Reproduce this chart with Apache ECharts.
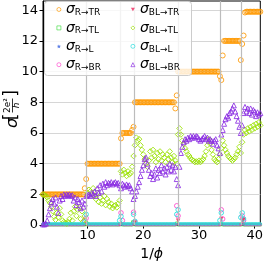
<!DOCTYPE html>
<html><head><meta charset="utf-8">
<script src="https://cdn.jsdelivr.net/npm/echarts@6/dist/echarts.min.js"></script>
<style>html,body{margin:0;padding:0;background:#fff}#c{width:266px;height:266px}</style>
</head><body><div id="c"></div>
<script>
// 1/phi sample positions
const xVals = [2,2.25,2.5,2.75,3,3.25,3.5,3.75,4,4.25,4.5,4.75,5,5.25,5.5,5.75,6,6.25,6.5,6.75,7,7.25,7.5,7.75,8,8.25,8.5,8.75,9,9.25,9.5,9.75,10,10.25,10.5,10.75,11,11.25,11.5,11.75,12,12.25,12.5,12.75,13,13.25,13.5,13.75,14,14.25,14.5,14.75,15,15.25,15.5,15.75,16,16.25,16.5,16.75,17,17.25,17.5,17.75,18,18.25,18.5,18.75,19,19.25,19.5,19.75,20,20.25,20.5,20.75,21,21.25,21.5,21.75,22,22.25,22.5,22.75,23,23.25,23.5,23.75,24,24.25,24.5,24.75,25,25.25,25.5,25.75,26,26.25,26.5,26.75,27,27.25,27.5,27.75,28,28.25,28.5,28.75,29,29.25,29.5,29.75,30,30.25,30.5,30.75,31,31.25,31.5,31.75,32,32.25,32.5,32.75,33,33.25,33.5,33.75,34,34.25,34.5,34.75,35,35.25,35.5,35.75,36,36.25,36.5,36.75,37,37.25,37.5,37.75,38,38.25,38.5,38.75,39,39.25,39.5,39.75,40,40.25,40.5,40.75,41];

const sigR_TR = [
2,2,2,2, 2,2,2,2, 2,2,2,2, 2,2,2,2, 2,2,2,2, 2,2,2,2, 2,2,2,2, 2,2,2.4,3.0,
4,4,4,4, 4,4,4,4, 4,4,4,4, 4,4,4,4, 4,4,4,4, 4,4,4,4,
5.65,6,6,6, 6,6,6,6, 6.2,6.4,8,8,
8,8,8,8, 8,8,8,8, 8,8,8,8, 8,8,8,8, 8,8,8,8, 8,8,8,8, 8,8,8,7.6,
8.45,10,10,10, 10,10,10,10, 10,10,10,10, 10,10,10,10, 10,10,10,10, 10,10,10,10, 10,10,10,10, 10,10,10,9.7,
9.45,11.05,12,12, 12,12,12,12, 12,12,12,12, 12,12,10.75,11.8,
12.35,13.85,13.9,13.9, 13.9,13.9,13.9,13.9, 13.9,13.9,13.9,13.9, 13.9];

const sigR_TL = [
0.03,0.03,0.03,0.03, 0.03,0.03,0.03,0.03, 0.03,0.03,0.03,0.03, 0.03,0.03,0.03,0.03, 0.03,0.03,0.03,0.03, 0.03,0.03,0.03,0.03, 0.03,0.03,0.03,0.03, 0.03,0.03,0.03,0.12,
0.03,0.03,0.03,0.03, 0.03,0.03,0.03,0.03, 0.03,0.03,0.03,0.03, 0.03,0.03,0.03,0.03, 0.03,0.03,0.03,0.03, 0.03,0.03,0.03,0.03,
0.1,0.03,0.03,0.03, 0.03,0.03,0.03,0.03, 0.03,0.15,0.03,0.03,
0.03,0.03,0.03,0.03, 0.03,0.03,0.03,0.03, 0.03,0.03,0.03,0.03, 0.03,0.03,0.03,0.03, 0.03,0.03,0.03,0.03, 0.03,0.03,0.03,0.03, 0.03,0.03,0.03,0.03,
0.12,0.03,0.03,0.03, 0.03,0.03,0.03,0.03, 0.03,0.03,0.03,0.03, 0.03,0.03,0.03,0.03, 0.03,0.03,0.03,0.03, 0.03,0.03,0.03,0.03, 0.03,0.03,0.03,0.03, 0.03,0.03,0.03,0.03,
0.1,0.03,0.03,0.03, 0.03,0.03,0.03,0.03, 0.03,0.03,0.03,0.03, 0.03,0.03,0.03,0.12,
0.03,0.03,0.03,0.03, 0.03,0.03,0.03,0.03, 0.03,0.03,0.03,0.03, 0.03];

const sigR_L = [
0.02,0.02,0.02,0.02, 0.02,0.02,0.02,0.02, 0.02,0.02,0.02,0.02, 0.02,0.02,0.02,0.02, 0.02,0.02,0.02,0.02, 0.02,0.02,0.02,0.02, 0.02,0.02,0.02,0.02, 0.02,0.02,0.02,0.08,
0.02,0.02,0.02,0.02, 0.02,0.02,0.02,0.02, 0.02,0.02,0.02,0.02, 0.02,0.02,0.02,0.02, 0.02,0.02,0.02,0.02, 0.02,0.02,0.02,0.02,
0.02,0.02,0.02,0.02, 0.02,0.02,0.02,0.02, 0.02,0.1,0.02,0.02,
0.02,0.02,0.02,0.02, 0.02,0.02,0.02,0.02, 0.02,0.02,0.02,0.02, 0.02,0.02,0.02,0.02, 0.02,0.02,0.02,0.02, 0.02,0.02,0.02,0.02, 0.02,0.02,0.02,0.02,
0.02,0.1,0.02,0.02, 0.02,0.02,0.02,0.02, 0.02,0.02,0.02,0.02, 0.02,0.02,0.02,0.02, 0.02,0.02,0.02,0.02, 0.02,0.02,0.02,0.02, 0.02,0.02,0.02,0.02, 0.02,0.02,0.02,0.02,
0.1,0.02,0.02,0.02, 0.02,0.02,0.02,0.02, 0.02,0.02,0.02,0.02, 0.02,0.02,0.02,0.1,
0.02,0.02,0.02,0.02, 0.02,0.02,0.02,0.02, 0.02,0.02,0.02,0.02, 0.02];

const sigR_BR = [
0.03,0.03,0.03,0.03, 0.03,0.03,0.03,0.03, 0.03,0.03,0.03,0.03, 0.03,0.03,0.03,0.03, 0.03,0.03,0.03,0.03, 0.03,0.03,0.03,0.03, 0.03,0.03,0.03,0.03, 0.03,0.03,0.28,0.45,
0.03,0.03,0.03,0.03, 0.03,0.03,0.03,0.03, 0.03,0.03,0.03,0.03, 0.03,0.03,0.03,0.03, 0.03,0.03,0.03,0.03, 0.03,0.03,0.03,0.03,
0.8,0.3,0.03,0.03, 0.03,0.03,0.03,0.03, 0.03,0.84,0.2,0.03,
0.03,0.03,0.03,0.03, 0.03,0.03,0.03,0.03, 0.03,0.03,0.03,0.03, 0.03,0.03,0.03,0.03, 0.03,0.03,0.03,0.03, 0.03,0.03,0.03,0.03, 0.03,0.03,0.03,0.03,
1.26,0.6,0.03,0.03, 0.03,0.03,0.03,0.03, 0.03,0.03,0.03,0.03, 0.03,0.03,0.03,0.03, 0.03,0.03,0.03,0.03, 0.03,0.03,0.03,0.03, 0.03,0.03,0.03,0.03, 0.03,0.03,0.03,0.03,
1.0,0.4,0.03,0.03, 0.03,0.03,0.03,0.03, 0.03,0.03,0.03,0.03, 0.03,0.03,0.03,0.6,
0.3,0.03,0.03,0.03, 0.03,0.03,0.03,0.03, 0.03,0.03,0.03,0.03, 0.03];

const sigBL_TR = [
0.02,0.02,0.02,0.02, 0.02,0.02,0.02,0.02, 0.02,0.02,0.02,0.02, 0.02,0.02,0.02,0.02, 0.02,0.02,0.02,0.02, 0.02,0.02,0.02,0.02, 0.02,0.02,0.02,0.02, 0.02,0.02,0.02,0.1,
0.02,0.02,0.02,0.02, 0.02,0.02,0.02,0.02, 0.02,0.02,0.02,0.02, 0.02,0.02,0.02,0.02, 0.02,0.02,0.02,0.02, 0.02,0.02,0.02,0.02,
0.1,0.02,0.02,0.02, 0.02,0.02,0.02,0.02, 0.02,0.02,0.15,0.02,
0.02,0.02,0.02,0.02, 0.02,0.02,0.02,0.02, 0.02,0.02,0.02,0.02, 0.02,0.02,0.02,0.02, 0.02,0.02,0.02,0.02, 0.02,0.02,0.02,0.02, 0.02,0.02,0.02,0.02,
0.02,0.28,0.02,0.02, 0.02,0.02,0.02,0.02, 0.02,0.02,0.02,0.02, 0.02,0.02,0.02,0.02, 0.02,0.02,0.02,0.02, 0.02,0.02,0.02,0.02, 0.02,0.02,0.02,0.02, 0.02,0.02,0.02,0.02,
0.4,0.02,0.02,0.02, 0.02,0.02,0.02,0.02, 0.02,0.02,0.02,0.02, 0.02,0.02,0.02,0.3,
0.35,0.02,0.02,0.02, 0.02,0.02,0.02,0.02, 0.02,0.02,0.02,0.02, 0.02];

const sigBL_TL = [
2.0,1.95,1.9,1.8, 1.6,1.45,1.2,0.9, 0.55,0.35,0.8,0.5, 1.1,0.7,0.3,0.2, 0.15,0.1,0.2,0.4, 0.8,0.3,0.9,1.2, 0.6,1.0,1.15,0.4, 0.9,0.25,0.6,0.15,
2.1,2.3,2.2,2.0, 2.4,1.9,1.7,2.1, 1.5,1.8,1.4,1.6, 1.9,1.3,1.7,1.5, 1.2,1.4,1.1,1.25, 1.3,1.15,1.4,1.6,
3.5,3.3,3.6,3.4, 3.2,3.5,3.3,3.4, 3.8,4.5,5.2,5.7,
5.5,5.6,5.2,4.9, 4.6,4.3,4.0,3.8, 4.2,4.8,4.4,4.9, 4.5,4.1,4.7,4.3, 4.8,4.2,4.6,4.4, 4.1,4.6,4.3,4.8, 4.4,4.1,4.5,4.2,
4.0,5.9,6.3,5.9, 5.5,5.3,5.0,4.8, 4.6,4.5,4.35,4.25, 4.2,4.1,4.15,4.1, 4.2,4.1,4.2,4.3, 4.5,4.8,5.2,5.6, 5.3,4.9,4.6,4.3, 4.2,4.1,4.3,4.6,
5.0,5.5,5.2,4.9, 4.7,4.5,4.4,4.3, 4.2,4.3,4.4,4.6, 4.8,5.1,4.7,5.4,
5.9,6.2,6.0,6.3, 6.1,6.4,6.2,6.5, 6.3,6.6,6.4,6.7, 6.5];

const sigBL_L = [
0.08,0.08,0.08,0.08, 0.08,0.08,0.08,0.08, 0.08,0.08,0.08,0.08, 0.08,0.08,0.08,0.08, 0.08,0.08,0.08,0.08, 0.08,0.08,0.08,0.08, 0.08,0.08,0.08,0.08, 0.08,0.08,0.2,0.7,
0.08,0.08,0.08,0.08, 0.08,0.08,0.08,0.08, 0.08,0.08,0.08,0.08, 0.08,0.08,0.08,0.08, 0.08,0.08,0.08,0.08, 0.08,0.08,0.08,0.3,
0.57,0.08,0.08,0.08, 0.08,0.08,0.08,0.08, 0.08,0.7,0.25,0.08,
0.08,0.08,0.08,0.08, 0.08,0.08,0.08,0.08, 0.08,0.08,0.08,0.08, 0.08,0.08,0.08,0.08, 0.08,0.08,0.08,0.08, 0.08,0.08,0.08,0.08, 0.08,0.08,0.08,0.08,
0.7,1.0,0.08,0.08, 0.08,0.08,0.08,0.08, 0.08,0.08,0.08,0.08, 0.08,0.08,0.08,0.08, 0.08,0.08,0.08,0.08, 0.08,0.08,0.08,0.08, 0.08,0.08,0.08,0.08, 0.08,0.08,0.08,0.3,
0.8,0.08,0.08,0.08, 0.08,0.08,0.08,0.08, 0.08,0.08,0.08,0.08, 0.08,0.08,0.5,0.8,
0.4,0.08,0.08,0.08, 0.08,0.08,0.08,0.08, 0.08,0.08,0.08,0.08, 0.08];

const sigBL_BR = [
0.05,0.05,0.1,0.3, 0.7,1.1,1.5,1.7, 1.4,1.8,1.2,0.8, 1.6,1.9,1.7,2.0, 1.9,2.0,1.95,2.0, 1.9,1.95,1.6,1.8, 1.3,1.7,1.5,1.1, 1.6,1.2,1.4,1.9,
1.95,2.0,1.9,2.1, 2.0,2.2,1.9,2.4, 2.1,2.6,2.2,2.7, 2.5,2.8,2.6,2.75, 2.7,2.8,2.65,2.75, 2.8,2.7,2.75,2.6,
2.4,2.7,2.6,2.5, 2.65,2.55,2.6,2.4, 2.2,1.7,1.9,2.2,
2.5,2.8,3.2,3.6, 3.9,4.3,4.4,4.0, 3.6,3.2,3.4,3.0, 3.3,3.7,3.1,3.6, 3.4,3.9,3.5,3.7, 3.3,3.8,3.5,4.0, 3.6,3.9,3.5,3.8,
3.0,2.6,3.8,4.7, 5.1,5.4,5.6,5.5, 5.7,5.6,5.8,5.7, 5.8,5.7,5.8,5.75, 5.6,5.5,5.6,5.7, 5.8,5.6,5.7,5.5, 5.6,5.5,5.3,5.5, 5.6,5.2,5.0,4.7,
5.9,6.2,6.6,6.9, 7.1,7.0,7.3,7.4, 7.6,7.8,7.4,7.1, 6.8,6.4,6.0,6.5,
7.3,7.7,7.4,7.6, 7.3,7.6,7.2,7.5, 7.4,7.1,7.35,7.2, 7.3];

const seriesNames = ['R→TR','R→TL','R→L','R→BR','BL→TR','BL→TL','BL→L','BL→BR'];
const xTicks = [10,20,30,40];
const yTicks = [0,2,4,6,8,10,12,14];
const transitions = [9.8,15.9,18.4,26.2,33.9,37.6];

const FONT = 'DejaVu Sans';
const styles = [
  {sym:'circle', size:5, color:'#ff9900', hollow:true, small:false},
  {sym:'rect', size:4, color:'#44dd44', hollow:true, small:true},
  {sym:'path://M0,-10 L2.9,-4 9.5,-3.1 4.7,1.5 5.9,8.1 0,5 -5.9,8.1 -4.7,1.5 -9.5,-3.1 -2.9,-4Z', size:5, color:'#4169e1', hollow:false, small:true},
  {sym:'circle', size:4.5, color:'#ff44cc', hollow:true, small:true},
  {sym:'path://M-8,-7 L8,-7 0,7Z', size:4.5, color:'#ee3366', hollow:false, small:true},
  {sym:'diamond', size:5.5, color:'#99e000', hollow:true, small:false},
  {sym:'circle', size:4.5, color:'#22dddd', hollow:true, small:true},
  {sym:'triangle', size:5, color:'#8a2be2', hollow:true, small:false}
];
const allY = [sigR_TR,sigR_TL,sigR_L,sigR_BR,sigBL_TR,sigBL_TL,sigBL_L,sigBL_BR];

const series = allY.map((ys,k)=>{
  const st = styles[k];
  const s = {
    name: seriesNames[k], type:'scatter', symbol: st.sym,
    symbolSize: st.small ? (v => (v[1] < 0.15 ? 2.5 : st.size)) : st.size,
    data: xVals.map((x,i)=>[x, ys[i]]),
    itemStyle: st.hollow ? {color:'rgba(255,255,255,0)', borderColor: st.color, borderWidth:1, opacity:0.85}
                         : {color: st.color, opacity:0.85},
    z: 2 + k*0.01
  };
  if (k===0) {
    s.markLine = {silent:true, symbol:'none', label:{show:false},
      lineStyle:{color:'#bcbcbc', width:1.2, type:'solid'},
      data: transitions.map(v=>({xAxis:v}))};
  }
  return s;
});

const legendRich = {
  s:{fontSize:14, fontStyle:'italic', fontFamily:FONT, color:'#000', lineHeight:16},
  b:{fontSize:9, fontFamily:FONT, color:'#000', lineHeight:16, padding:[6,0,0,0]}
};
const fmt = n => '{s|σ}{b|' + n + '}';
const legendData = k => ({
  name: seriesNames[k], icon: styles[k].sym,
  itemStyle: styles[k].hollow ? {color:'rgba(255,255,255,0)', borderColor: styles[k].color, borderWidth:0.8}
                              : {color: styles[k].color, borderWidth:0}
});
const legendBase = {orient:'vertical', top:2, padding:0, itemWidth:4, itemHeight:4, itemGap:3.4, itemTextGap:11.5,
  formatter: fmt, textStyle:{rich: legendRich}, z:100, selectedMode:false};

const chart = echarts.init(document.getElementById('c'), null, {renderer:'canvas'});
chart.setOption({
  animation:false,
  textStyle:{fontFamily:FONT},
  grid:{left:43, right:3, top:1, bottom:31.5, show:true, borderColor:'#000', borderWidth:1, backgroundColor:'rgba(0,0,0,0)'},
  xAxis:{type:'value', min:2, max:41,
    axisLine:{show:true, lineStyle:{color:'#000', width:1}},
    axisTick:{show:true, length:3.5, lineStyle:{color:'#000'}, customValues:xTicks},
    axisLabel:{fontSize:13, color:'#000', margin:4, customValues:xTicks, fontFamily:FONT},
    splitLine:{show:false},
    name:'1/{i|ϕ}', nameLocation:'middle', nameGap:15,
    nameTextStyle:{fontSize:14, color:'#000', fontFamily:FONT, rich:{i:{fontSize:14, fontStyle:'italic', fontFamily:FONT, color:'#000'}}}
  },
  yAxis:{type:'value', min:0, max:14.6, interval:1,
    axisLine:{show:true, lineStyle:{color:'#000', width:1}},
    axisTick:{show:true, length:3.5, lineStyle:{color:'#000'}, customValues:yTicks},
    axisLabel:{fontSize:13, color:'#000', margin:5, customValues:yTicks, fontFamily:FONT},
    splitLine:{show:true, lineStyle:{color:'#d6d6d6', width:1}}
  },
  legend:[
    Object.assign({}, legendBase, {left:56.5, data: [0,1,2,3].map(legendData)}),
    Object.assign({}, legendBase, {left:130.5, data: [4,5,6,7].map(legendData)})
  ],
  graphic:[
    {type:'rect', z:90, shape:{x:44.5, y:1.5, width:147, height:74, r:3}, style:{fill:'rgba(255,255,255,0.8)', stroke:'#cccccc', lineWidth:1}},
    {type:'text', x:12.5, y:123, rotation:Math.PI/2, style:{text:'σ', font:'italic 16px "DejaVu Sans"', fill:'#000', align:'center', verticalAlign:'middle', textAlign:'center', textVerticalAlign:'middle'}},
    {type:'text', x:12, y:117, rotation:Math.PI/2, style:{text:'[', font:'17px "DejaVu Sans"', fill:'#000', align:'center', verticalAlign:'middle', textAlign:'center', textVerticalAlign:'middle'}},
    {type:'text', x:7.5, y:105.5, rotation:Math.PI/2, style:{text:'2e²', font:'9px "DejaVu Sans"', fill:'#000', align:'center', verticalAlign:'middle', textAlign:'center', textVerticalAlign:'middle'}},
    {type:'line', shape:{x1:12.5, y1:98.5, x2:12.5, y2:112.5}, style:{stroke:'#000', lineWidth:0.8}},
    {type:'text', x:17, y:105.5, rotation:Math.PI/2, style:{text:'h', font:'italic 9px "DejaVu Sans"', fill:'#000', align:'center', verticalAlign:'middle', textAlign:'center', textVerticalAlign:'middle'}},
    {type:'text', x:12, y:93.5, rotation:Math.PI/2, style:{text:']', font:'17px "DejaVu Sans"', fill:'#000', align:'center', verticalAlign:'middle', textAlign:'center', textVerticalAlign:'middle'}}
  ],
  series: series
});
</script>
</body></html>
